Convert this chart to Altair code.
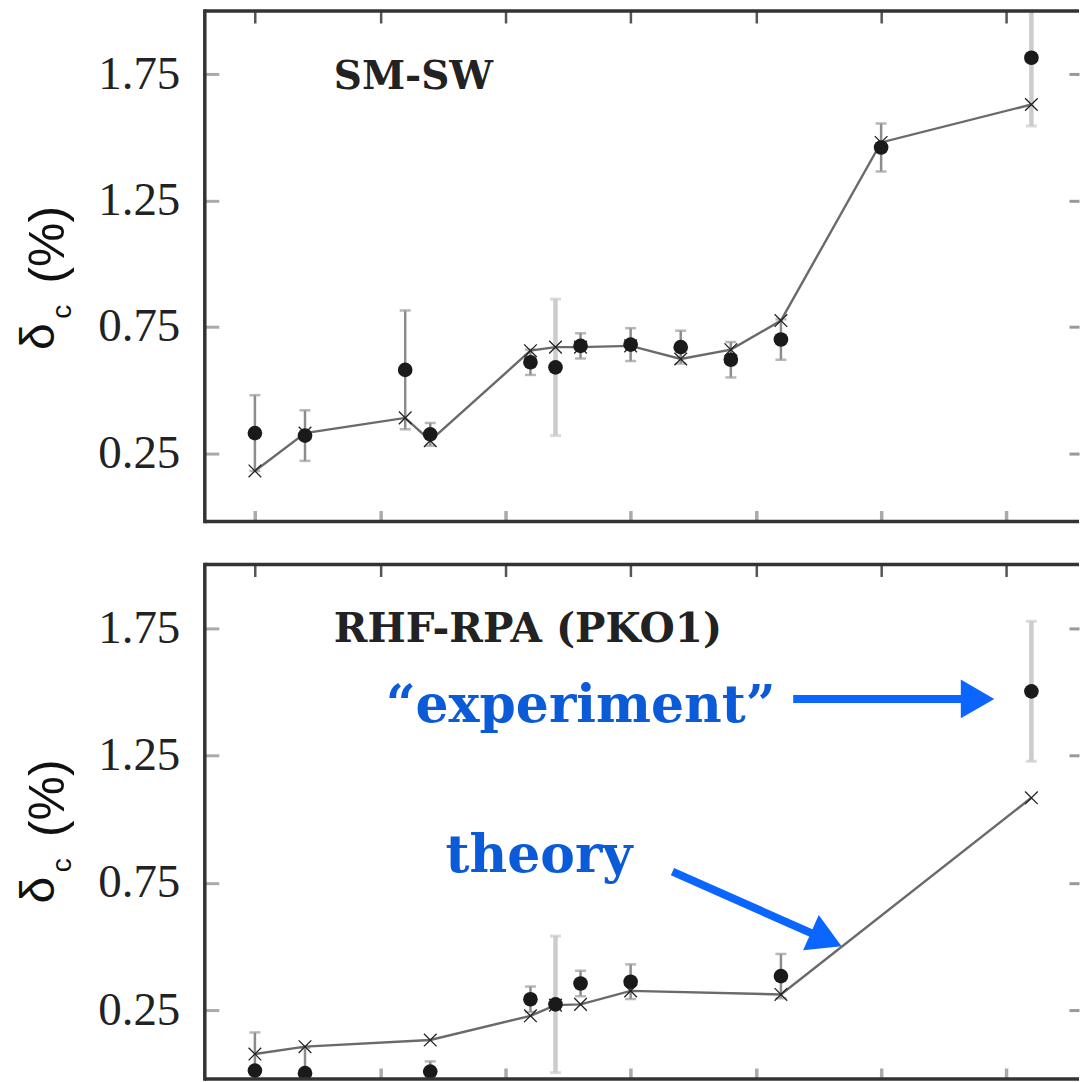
import altair as alt
import pandas as pd

# x = Z of the daughter nucleus, y = delta_C (%)
Z_SW = [5, 7, 11, 12, 16, 17, 18, 20, 22, 24, 26, 30, 36]
EXP_SW = [0.33, 0.32, 0.58, 0.325, 0.61, 0.59, 0.675, 0.68, 0.67, 0.62, 0.70, 1.46, 1.815]
ERR_SW = [0.15, 0.10, 0.235, 0.045, 0.05, 0.27, 0.05, 0.065, 0.065, 0.07, 0.08, 0.095, 0.27]
TH_SW = [0.18, 0.33, 0.39, 0.30, 0.656, 0.67, 0.67, 0.675, 0.623, 0.66, 0.775, 1.48, 1.63]

Z_PKO = [5, 7, 12, 16, 17, 18, 20, 26, 36]
EXP_PKO = [0.013, 0.003, 0.009, 0.293, 0.273, 0.355, 0.362, 0.384, 1.502]
ERR_PKO = [0.15, 0.10, 0.04, 0.05, 0.268, 0.05, 0.068, 0.087, 0.275]
TH_PKO = [0.078, 0.107, 0.133, 0.228, 0.27, 0.273, 0.326, 0.312, 1.084]

X_TICKS = [5, 10, 15, 20, 25, 30, 35]
Y_TICKS = [0.25, 0.75, 1.25, 1.75]
X_DOMAIN = [3, 37.9]
Y_DOMAIN = [-0.02, 2.0]

PANEL_LABELS = ["SM-SW", "RHF-RPA (PKO1)"]
LABEL_POS = [(8.15, 1.690), (8.15, 1.696)]
LABEL_SIZE = [39, 40.5]
NOTE_TEXT = ["\u201cexperiment\u201d", "theory"]
NOTE_POS = [(10.22, 1.383), (12.61, 0.791)]
ARROW_TAIL = [(26.49, 1.472), (21.67, 0.794)]
ARROW_SHAFT_END = [(33.36, 1.472), (27.35, 0.547)]
ARROW_HEAD = [(33.85, 1.472), (27.81, 0.528)]
ARROW_ANGLE = [0, 23.8]

W = 875
BLUE_TXT = "#0b5ad8"
BLUE_ARR = "#0a66ff"

xs = alt.Scale(domain=X_DOMAIN, nice=False, zero=False)
ys = alt.Scale(domain=Y_DOMAIN, nice=False, zero=False)


def one():
    return pd.DataFrame({"k": [0]})


def panel(z, exp, err, th, H, label, label_pos, label_size, notes=False):
    df = pd.DataFrame({"Z": z, "exp": exp, "err": err, "th": th})
    df["lo"] = df["exp"] - df["err"]
    df["hi"] = df["exp"] + df["err"]
    df["wide"] = df["err"] > 0.25
    narrow = df[~df["wide"]]
    wide = df[df["wide"]]

    def X(f="Z"):
        return alt.X(f"{f}:Q", scale=xs, axis=None)

    def Y(f):
        return alt.Y(f"{f}:Q", scale=ys, axis=None)

    layers = []
    # axes (bottom + left)
    layers.append(alt.Chart(df).mark_point(opacity=0).encode(
        x=alt.X("Z:Q", scale=xs, axis=alt.Axis(
            orient="bottom", values=X_TICKS, labels=False, domain=False, grid=False,
            tickSize=11, tickWidth=3.5, tickColor="#aaaaaa", offset=-11, title=None)),
        y=alt.Y("exp:Q", scale=ys, axis=alt.Axis(
            orient="left", values=Y_TICKS, format=".2f", labelFont="Liberation Serif",
            labelFontSize=47, labelColor="#222222", labelPadding=25, domain=False,
            grid=False, tickSize=14, tickWidth=3, tickColor="#aaaaaa", offset=-14,
            title=None))))
    # axes (top + right)
    layers.append(alt.Chart(df).mark_point(opacity=0).encode(
        x=alt.X("Z:Q", scale=xs, axis=alt.Axis(
            orient="top", values=X_TICKS, labels=False, domain=False, grid=False,
            tickSize=12, tickWidth=2.5, tickColor="#555555", offset=-12, title=None)),
        y=alt.Y("exp:Q", scale=ys, axis=alt.Axis(
            orient="right", values=Y_TICKS, labels=False, domain=False, grid=False,
            tickSize=10, tickWidth=3, tickColor="#999999", offset=-10, title=None))))

    # error bars
    if len(wide):
        layers.append(alt.Chart(wide).mark_rule(color="#cccccc", strokeWidth=4.5, clip=True).encode(
            x=X(), y=Y("lo"), y2="hi:Q"))
        for f in ["lo", "hi"]:
            layers.append(alt.Chart(wide).mark_tick(color="#cccccc", orient="horizontal", size=11,
                                                    thickness=3, clip=True).encode(x=X(), y=Y(f)))
    layers.append(alt.Chart(narrow).mark_rule(color="#8c8c8c", strokeWidth=2.5, clip=True).encode(
        x=X(), y=Y("lo"), y2="hi:Q"))
    for f in ["lo", "hi"]:
        layers.append(alt.Chart(narrow).mark_tick(color="#9a9a9a", orient="horizontal", size=11,
                                                  thickness=2.5, clip=True).encode(x=X(), y=Y(f)))
    # theory line and crosses
    layers.append(alt.Chart(df).mark_line(color="#6a6a6a", strokeWidth=2.4, clip=True).encode(
        x=X(), y=Y("th")))
    layers.append(alt.Chart(df).mark_point(
        shape="M -1 -1 L 1 1 M -1 1 L 1 -1", size=160, filled=False, color="#222222",
        strokeWidth=1.3, opacity=1, clip=True).encode(x=X(), y=Y("th")))
    # experiment dots
    layers.append(alt.Chart(df).mark_circle(size=215, color="#1a1a1a", opacity=1, clip=True).encode(
        x=X(), y=Y("exp")))

    # panel label
    lab = pd.DataFrame({"x": [label_pos[0]], "y": [label_pos[1]], "t": [label]})
    layers.append(alt.Chart(lab).mark_text(
        font="DejaVu Serif", fontWeight="bold", fontSize=label_size, color="#222222",
        align="left", baseline="alphabetic").encode(x=X("x"), y=Y("y"), text="t:N"))

    if notes:
        nt = pd.DataFrame({"x": [p[0] for p in NOTE_POS], "y": [p[1] for p in NOTE_POS],
                           "t": NOTE_TEXT})
        layers.append(alt.Chart(nt).mark_text(
            font="DejaVu Serif", fontWeight="bold", fontSize=52, color=BLUE_TXT,
            align="left", baseline="alphabetic").encode(x=X("x"), y=Y("y"), text="t:N"))
        ar = pd.DataFrame({
            "x1": [p[0] for p in ARROW_TAIL], "y1": [p[1] for p in ARROW_TAIL],
            "x2": [p[0] for p in ARROW_SHAFT_END], "y2": [p[1] for p in ARROW_SHAFT_END],
            "hx": [p[0] for p in ARROW_HEAD], "hy": [p[1] for p in ARROW_HEAD],
            "ang": ARROW_ANGLE})
        layers.append(alt.Chart(ar).mark_rule(color=BLUE_ARR, strokeWidth=8).encode(
            x=X("x1"), y=Y("y1"), x2="x2:Q", y2="y2:Q"))
        layers.append(alt.Chart(ar).mark_point(
            shape="triangle-right", filled=True, size=1500, color=BLUE_ARR, opacity=1).encode(
            x=X("hx"), y=Y("hy"), angle=alt.Angle("ang:Q", scale=None)))

    # frame (top, bottom, left)
    fr = dict(color="#333333", strokeWidth=3.5)
    layers.append(alt.Chart(one()).mark_rule(**fr).encode(
        x=alt.value(0), x2=alt.value(W), y=alt.value(0)))
    layers.append(alt.Chart(one()).mark_rule(**fr).encode(
        x=alt.value(0), x2=alt.value(W), y=alt.value(H)))
    layers.append(alt.Chart(one()).mark_rule(**fr).encode(
        x=alt.value(0), y=alt.value(-1.75), y2=alt.value(H + 1.75)))

    # y title: delta_c (%)
    tfont = dict(font="Liberation Sans", angle=270, align="center", baseline="alphabetic",
                 color="#111111")
    layers.append(alt.Chart(one()).mark_text(text="(%)", fontSize=50, **tfont).encode(
        x=alt.value(-141), y=alt.value(234)))
    layers.append(alt.Chart(one()).mark_text(text="\u03b4", fontSize=48, **tfont).encode(
        x=alt.value(-151), y=alt.value(326)))
    layers.append(alt.Chart(one()).mark_text(text="c", fontSize=28, **tfont).encode(
        x=alt.value(-134), y=alt.value(301)))

    return alt.layer(*layers).resolve_axis(x="independent", y="independent").properties(
        width=W, height=H)


top = panel(Z_SW, EXP_SW, ERR_SW, TH_SW, 511, PANEL_LABELS[0], LABEL_POS[0], LABEL_SIZE[0])
bottom = panel(Z_PKO, EXP_PKO, ERR_PKO, TH_PKO, 515, PANEL_LABELS[1], LABEL_POS[1],
               LABEL_SIZE[1], notes=True)

chart = alt.vconcat(top, bottom, spacing=35).properties(
    padding={"left": 16, "top": 6.5, "right": 0, "bottom": 0},
    background="white",
).configure_view(stroke=None)

chart.save("out.html", embed_options={"renderer": "svg", "actions": False})
